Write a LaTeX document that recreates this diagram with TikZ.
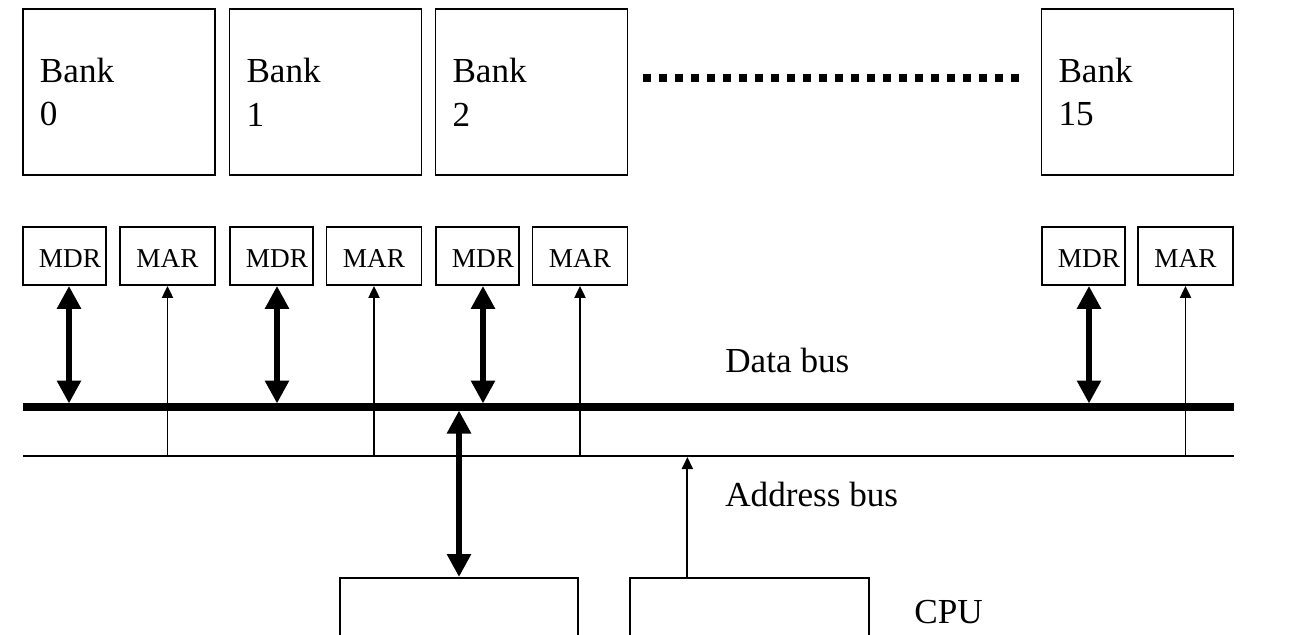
\documentclass[tikz,border=0pt]{standalone}
\usepackage{fontspec}
\setmainfont{Liberation Serif}
\usetikzlibrary{arrows.meta,positioning,calc}
\tikzset{
  bankbox/.style={draw, line width=1pt, minimum width=38.4mm, minimum height=33.2mm,
    inner xsep=3.4mm, text width=31.6mm, align=left, font=\fontsize{20}{25}\selectfont},
  regbox/.style={draw, line width=1pt, minimum height=11.6mm, inner sep=0pt,
    text height=4.6mm, text depth=0mm, font=\fontsize{15.5}{18}\selectfont},
  cpubox/.style={draw, line width=1pt, minimum width=47.7mm, minimum height=32mm, anchor=north},
  dataln/.style={line width=4pt},
  addrln/.style={line width=1.1pt},
  wideio/.style={{Triangle[length=4.6mm,width=4.6mm]}-{Triangle[length=4.6mm,width=4.6mm]}, line width=3.9pt},
  addrio/.style={-{Triangle[length=2.4mm,width=2.2mm]}, line width=1.1pt},
  lbl/.style={anchor=west, inner sep=0pt, font=\fontsize{20}{24}\selectfont},
}
\begin{document}
\begin{tikzpicture}[x=0.2mm, y=-0.2mm]
  \useasboundingbox (0,0) rectangle (1302,634);
  % banks
  \node[bankbox] (bank0) at (119,92) {Bank\\0};
  \node[bankbox] (bank1) at (325.5,92) {Bank\\1};
  \node[bankbox] (bank2) at (531.5,92) {Bank\\2};
  \node[bankbox] (bank15) at (1137.5,92) {Bank\\15};
  \coordinate (dotsL) at (643,78);
  \coordinate (dotsR) at (1022,78);
  \draw[line width=1.6mm, dash pattern=on 1.6mm off 1.6mm] (dotsL) -- (dotsR);
  % registers
  \node[regbox, minimum width=16.6mm] (mdr0) at (64.5,256) {\hspace*{2.2mm}MDR};
  \node[regbox, minimum width=19mm] (mar0) at (167.5,256) {MAR};
  \node[regbox, minimum width=16.6mm] (mdr1) at (271.5,256) {\hspace*{2.2mm}MDR};
  \node[regbox, minimum width=19mm] (mar1) at (374,256) {MAR};
  \node[regbox, minimum width=16.6mm] (mdr2) at (477.5,256) {\hspace*{2.2mm}MDR};
  \node[regbox, minimum width=19mm] (mar2) at (580,256) {MAR};
  \node[regbox, minimum width=16.6mm] (mdr15) at (1083.5,256) {\hspace*{2.2mm}MDR};
  \node[regbox, minimum width=19mm] (mar15) at (1185.5,256) {MAR};
  % buses
  \coordinate (dbusL) at (23,407);
  \coordinate (dbusR) at (1234,407);
  \coordinate (abusL) at (23,456);
  \coordinate (abusR) at (1234,456);
  \draw[dataln] (dbusL) -- (dbusR);
  \draw[addrln] (abusL) -- (abusR);
  \node[lbl] (dlabel) at (725,360) {Data bus};
  \node[lbl] (alabel) at (725,494) {Address bus};
  % cpu
  \node[cpubox] (cpuL) at (459,577) {};
  \node[cpubox] (cpuR) at (749.5,577) {};
  \node[lbl] (cpulabel) at (914,612) {CPU};
  % links
  \draw[wideio, shorten >=0.7mm] ([xshift=0.9mm]mdr0.south) -- ([xshift=0.9mm]mdr0.south |- dbusL);
  \draw[wideio, shorten >=0.7mm] ([xshift=1.1mm]mdr1.south) -- ([xshift=1.1mm]mdr1.south |- dbusL);
  \draw[wideio, shorten >=0.7mm] ([xshift=1.1mm]mdr2.south) -- ([xshift=1.1mm]mdr2.south |- dbusL);
  \draw[wideio, shorten >=0.7mm] ([xshift=1.1mm]mdr15.south) -- ([xshift=1.1mm]mdr15.south |- dbusL);
  \draw[addrio] (mar0.south |- abusL) -- (mar0.south);
  \draw[addrio] (mar1.south |- abusL) -- (mar1.south);
  \draw[addrio] (mar2.south |- abusL) -- (mar2.south);
  \draw[addrio] (mar15.south |- abusL) -- (mar15.south);
  \draw[wideio, shorten >=0.7mm] (cpuL.north) -- (cpuL.north |- dbusL);
  \draw[addrio, shorten >=0.2mm] ([xshift=11.6mm]cpuR.north west) -- ([xshift=11.6mm]cpuR.north west |- abusL);
\end{tikzpicture}
\end{document}
